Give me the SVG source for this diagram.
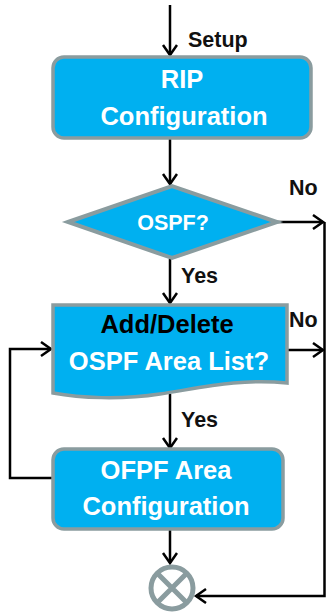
<svg xmlns="http://www.w3.org/2000/svg" width="326" height="613" viewBox="0 0 326 613">
<style>
.box{fill:#00b0f0;stroke:#8a9c9f;stroke-width:3.5}
.t{font-family:"Liberation Sans",Arial,sans-serif;font-weight:bold;font-size:25.5px;text-anchor:middle;fill:#fff}
.lbl{font-family:"Liberation Sans",Arial,sans-serif;font-weight:bold;font-size:21.5px;fill:#111}
.c{fill:none;stroke:#000;stroke-width:2.5}
</style>
<defs>
<marker id="ah" markerUnits="userSpaceOnUse" markerWidth="16" markerHeight="18" refX="12" refY="8" orient="auto">
<path d="M2,1 L12,8 L2,15" fill="none" stroke="#000" stroke-width="2.5"/>
</marker>
</defs>
<g id="connectors">
<line class="c" x1="170" y1="5" x2="170" y2="55" marker-end="url(#ah)"/>
<line class="c" x1="170" y1="139" x2="170" y2="184" marker-end="url(#ah)"/>
<line class="c" x1="170" y1="259" x2="170" y2="303" marker-end="url(#ah)"/>
<line class="c" x1="170" y1="394" x2="170" y2="448" marker-end="url(#ah)"/>
<line class="c" x1="170" y1="530" x2="170" y2="563" marker-end="url(#ah)"/>
<line class="c" x1="277" y1="222" x2="323" y2="222" marker-end="url(#ah)"/>
<line class="c" x1="288" y1="350" x2="323" y2="350" marker-end="url(#ah)"/>
<polyline class="c" points="324.5,222 324.5,596 196,596" marker-end="url(#ah)"/>
<polyline class="c" points="52,478 10,478 10,349 51,349" marker-end="url(#ah)"/>
<text class="lbl" x="188" y="47">Setup</text>
<text class="lbl" x="289" y="195">No</text>
<text class="lbl" x="181" y="283">Yes</text>
<text class="lbl" x="289" y="327">No</text>
<text class="lbl" x="181" y="427">Yes</text>
</g>
<g id="rip">
<rect class="box" x="53" y="57" width="258" height="81" rx="11"/>
<text class="t" x="182" y="88">RIP</text>
<text class="t" x="184" y="125">Configuration</text>
</g>
<g id="ospf">
<polygon class="box" points="68,222 172,186 277,222 172,258" style="stroke-width:4"/>
<text class="t" x="173" y="230" style="font-size:21.5px">OSPF?</text>
</g>
<g id="adddelete">
<path class="box" d="M53,305 H287 V383 C240,378 200,388 160,394 C120,400 80,398 53,393 Z"/>
<text class="t" x="167" y="333" style="fill:#000">Add/Delete</text>
<text class="t" x="169" y="370">OSPF Area List?</text>
</g>
<g id="ofpf">
<rect class="box" x="53" y="449" width="230" height="80" rx="11"/>
<text class="t" x="166" y="479">OFPF Area</text>
<text class="t" x="166" y="515">Configuration</text>
</g>
<g id="end">
<circle cx="172" cy="588" r="21" fill="#fff" stroke="#8a9c9f" stroke-width="5"/>
<path d="M157,573 L187,603 M187,573 L157,603" stroke="#8a9c9f" stroke-width="5"/>
</g>
</svg>
